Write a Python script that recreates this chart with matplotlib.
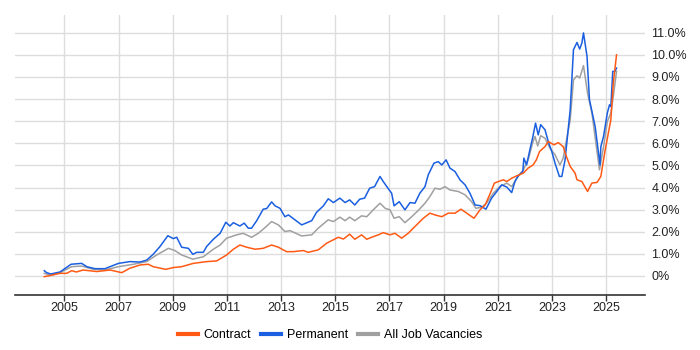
import matplotlib
matplotlib.use("Agg")
import matplotlib.pyplot as plt
from matplotlib.ticker import FuncFormatter

plt.rcParams['font.family'] = ['Liberation Sans', 'DejaVu Sans']

# ------------------------------
# Data (% of UK job ads)
# ------------------------------
perm_x = [2004.26, 2004.35, 2004.5, 2004.84, 2005.25, 2005.64, 2005.83, 2006.13, 2006.5, 2007.0,
          2007.42, 2007.8, 2008.04, 2008.28, 2008.53, 2008.82, 2009.02, 2009.15, 2009.33, 2009.58,
          2009.74, 2009.89, 2010.13, 2010.25, 2010.5, 2010.75, 2010.96, 2011.11, 2011.24, 2011.48,
          2011.64, 2011.79, 2011.91, 2012.1, 2012.34, 2012.47, 2012.65, 2012.78, 2012.96, 2013.14,
          2013.27, 2013.51, 2013.76, 2014.13, 2014.31, 2014.56, 2014.74, 2014.93, 2015.17, 2015.36,
          2015.53, 2015.72, 2015.9, 2016.08, 2016.27, 2016.45, 2016.65, 2016.77, 2016.96, 2017.08,
          2017.17, 2017.36, 2017.57, 2017.76, 2017.94, 2018.12, 2018.31, 2018.43, 2018.64, 2018.8,
          2018.93, 2019.09, 2019.23, 2019.42, 2019.6, 2019.79, 2019.97, 2020.16, 2020.34, 2020.56,
          2020.77, 2020.96, 2021.14, 2021.33, 2021.51, 2021.63, 2021.75, 2021.92, 2021.96, 2022.06,
          2022.18, 2022.28, 2022.39, 2022.49, 2022.58, 2022.74, 2022.86, 2022.99, 2023.11, 2023.27,
          2023.36, 2023.48, 2023.67, 2023.79, 2023.92, 2024.02, 2024.1, 2024.16, 2024.29, 2024.38,
          2024.59, 2024.77, 2024.8, 2024.9, 2025.04, 2025.12, 2025.17, 2025.24, 2025.32, 2025.38]
perm_y = [0.24, 0.15, 0.09, 0.18, 0.53, 0.57, 0.42, 0.33, 0.33, 0.57,
          0.65, 0.63, 0.72, 0.98, 1.33, 1.82, 1.69, 1.75, 1.30, 1.25,
          0.98, 1.07, 1.07, 1.33, 1.66, 1.93, 2.43, 2.26, 2.41, 2.26,
          2.39, 2.16, 2.16, 2.50, 3.02, 3.05, 3.35, 3.17, 3.06, 2.68,
          2.76, 2.54, 2.31, 2.50, 2.88, 3.17, 3.49, 3.32, 3.52, 3.32,
          3.44, 3.21, 3.47, 3.52, 3.97, 4.04, 4.50, 4.27, 3.94, 3.74,
          3.17, 3.36, 2.99, 3.32, 3.29, 3.74, 4.04, 4.57, 5.10, 5.17,
          5.02, 5.25, 4.88, 4.72, 4.35, 4.12, 3.74, 3.21, 3.18, 3.02,
          3.52, 3.82, 4.12, 4.02, 3.77, 4.27, 4.53, 4.72, 5.33, 5.02,
          5.70, 6.23, 6.91, 6.38, 6.84, 6.61, 6.08, 5.63, 5.10, 4.50,
          4.50, 5.25, 7.52, 10.23, 10.56, 10.26, 10.53, 10.99, 9.93, 7.97,
          6.76, 5.02, 5.85, 6.31, 7.37, 7.74, 7.66, 9.25, 9.25, 9.40]

all_x = [2004.26, 2004.5, 2004.84, 2005.27, 2005.64, 2006.07, 2006.5, 2007.0, 2007.55, 2008.04,
         2008.41, 2008.84, 2009.08, 2009.33, 2009.74, 2010.13, 2010.5, 2010.75, 2010.99, 2011.36,
         2011.6, 2011.91, 2012.16, 2012.41, 2012.65, 2012.9, 2013.14, 2013.33, 2013.76, 2014.13,
         2014.37, 2014.74, 2014.93, 2015.17, 2015.36, 2015.53, 2015.72, 2015.97, 2016.16, 2016.4,
         2016.65, 2016.84, 2017.02, 2017.17, 2017.36, 2017.57, 2017.82, 2018.06, 2018.31, 2018.49,
         2018.68, 2018.86, 2019.05, 2019.23, 2019.54, 2019.79, 2020.03, 2020.19, 2020.4, 2020.58,
         2020.83, 2021.07, 2021.33, 2021.51, 2021.7, 2021.94, 2022.12, 2022.28, 2022.37, 2022.47,
         2022.58, 2022.74, 2022.92, 2023.11, 2023.29, 2023.41, 2023.67, 2023.79, 2023.92, 2024.02,
         2024.16, 2024.31, 2024.47, 2024.75, 2024.9, 2025.04, 2025.17, 2025.26, 2025.38]
all_y = [0.12, 0.03, 0.15, 0.42, 0.45, 0.30, 0.27, 0.42, 0.53, 0.65,
         0.95, 1.25, 1.15, 0.95, 0.76, 0.87, 1.21, 1.40, 1.71, 1.86,
         1.93, 1.75, 1.93, 2.19, 2.46, 2.31, 2.01, 2.05, 1.81, 1.86,
         2.16, 2.54, 2.46, 2.66, 2.50, 2.66, 2.50, 2.72, 2.68, 2.99,
         3.29, 3.06, 2.99, 2.61, 2.68, 2.41, 2.68, 2.96, 3.29, 3.59,
         3.97, 3.92, 4.04, 3.89, 3.82, 3.67, 3.36, 3.06, 3.11, 3.29,
         3.74, 4.04, 4.20, 4.04, 4.42, 4.80, 5.25, 6.01, 6.31, 5.88,
         6.34, 6.23, 5.78, 5.48, 5.02, 5.33, 7.06, 8.87, 9.05, 8.95,
         9.51, 8.27, 7.37, 4.80, 5.85, 6.98, 7.37, 8.12, 9.25]

contract_x = [2004.26, 2004.4, 2004.84, 2005.09, 2005.27, 2005.45, 2005.69, 2006.2, 2006.69, 2007.12,
              2007.42, 2007.8, 2008.1, 2008.28, 2008.74, 2009.02, 2009.33, 2009.76, 2010.25, 2010.62,
              2010.99, 2011.24, 2011.48, 2011.73, 2012.04, 2012.34, 2012.65, 2012.9, 2013.2, 2013.45,
              2013.82, 2014.0, 2014.37, 2014.68, 2015.11, 2015.3, 2015.53, 2015.72, 2015.97, 2016.16,
              2016.34, 2016.59, 2016.77, 2017.02, 2017.2, 2017.45, 2017.69, 2018.0, 2018.25, 2018.49,
              2018.68, 2018.93, 2019.17, 2019.42, 2019.64, 2019.85, 2020.12, 2020.34, 2020.53, 2020.72,
              2020.87, 2021.02, 2021.2, 2021.33, 2021.51, 2021.7, 2021.94, 2022.12, 2022.3, 2022.42,
              2022.54, 2022.74, 2022.86, 2023.07, 2023.23, 2023.41, 2023.53, 2023.67, 2023.85, 2023.92,
              2024.1, 2024.31, 2024.47, 2024.66, 2024.8, 2024.96, 2025.17, 2025.26, 2025.38]
contract_y = [-0.03, 0.0, 0.12, 0.12, 0.24, 0.18, 0.27, 0.20, 0.27, 0.15,
              0.35, 0.50, 0.53, 0.42, 0.30, 0.38, 0.42, 0.57, 0.65, 0.68,
              0.95, 1.21, 1.40, 1.30, 1.21, 1.25, 1.40, 1.30, 1.10, 1.10,
              1.15, 1.07, 1.18, 1.48, 1.75, 1.67, 1.89, 1.66, 1.86, 1.66,
              1.75, 1.86, 1.96, 1.86, 1.93, 1.71, 1.93, 2.31, 2.61, 2.84,
              2.76, 2.68, 2.84, 2.84, 3.02, 2.84, 2.61, 2.99, 3.21, 3.74,
              4.20, 4.27, 4.35, 4.27, 4.42, 4.53, 4.65, 4.88, 5.02, 5.25,
              5.63, 5.85, 6.08, 5.93, 6.03, 5.85, 5.40, 4.95, 4.65, 4.35,
              4.27, 3.82, 4.20, 4.23, 4.50, 5.70, 7.06, 8.72, 10.0]

year_ticks = [2005, 2007, 2009, 2011, 2013, 2015, 2017, 2019, 2021, 2023, 2025]
pct_ticks = [0, 1, 2, 3, 4, 5, 6, 7, 8, 9, 10, 11]

# ------------------------------
# Plot
# ------------------------------
fig = plt.figure(figsize=(7, 3.5), dpi=100)
ax = fig.add_axes([15 / 700, 55 / 350, 630 / 700, 280 / 350])

ax.plot(all_x, all_y, color='#a0a0a0', lw=1.1, label='All Job Vacancies', zorder=3)
ax.plot(perm_x, perm_y, color='#1a5fe0', lw=1.1, label='Permanent', zorder=4)
ax.plot(contract_x, contract_y, color='#ff5a14', lw=1.1, label='Contract', zorder=5)

ax.set_xlim(2003.18, 2026.43)
ax.set_ylim(-0.86, 11.8)
ax.set_xticks(year_ticks)
ax.set_yticks(pct_ticks)
ax.yaxis.set_major_formatter(FuncFormatter(lambda v, p: '0%' if v == 0 else f'{v:.1f}%'))
ax.yaxis.tick_right()
ax.tick_params(axis='y', length=0, pad=4.5, labelsize=9, labelcolor='#222222')
ax.tick_params(axis='x', length=4, width=1, color='#333333', labelsize=9,
               labelcolor='#222222', pad=1)

ax.grid(True, color='#dddddd', lw=1)
ax.set_axisbelow(True)
for s in ['top', 'left', 'right']:
    ax.spines[s].set_visible(False)
ax.spines['bottom'].set_color('#333333')
ax.spines['bottom'].set_linewidth(1.2)

handles, labels = ax.get_legend_handles_labels()
order = [2, 1, 0]
leg = fig.legend([handles[i] for i in order], [labels[i] for i in order],
                 loc='center', bbox_to_anchor=(330 / 700, 15 / 350), ncol=3, frameon=False,
                 fontsize=9, handlelength=1.6, handletextpad=0.45, columnspacing=0.8)
for line in leg.get_lines():
    line.set_linewidth(3)

fig.savefig('out.png', dpi=100)
